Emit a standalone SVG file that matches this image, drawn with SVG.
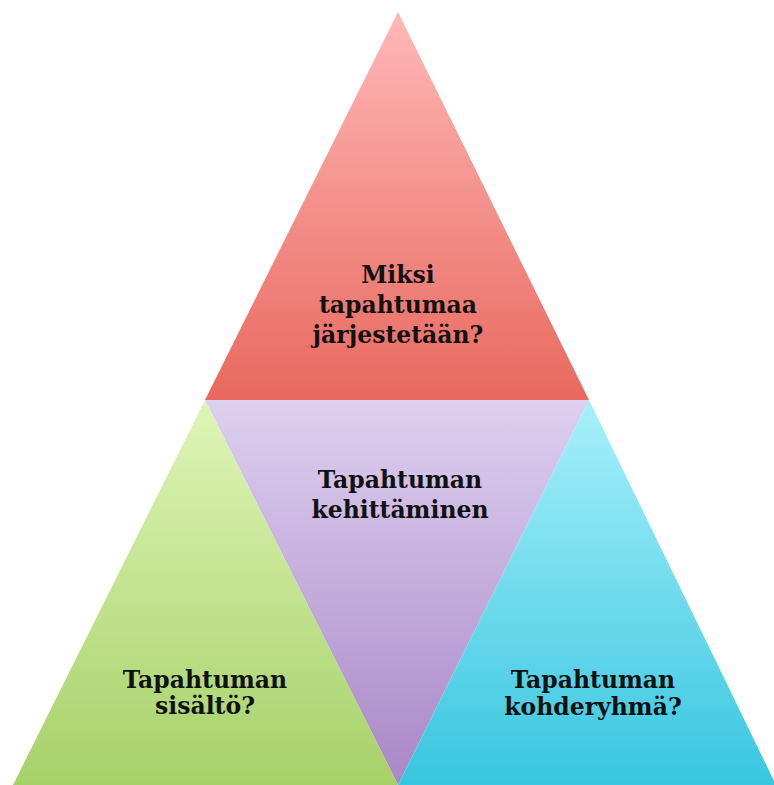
<svg xmlns="http://www.w3.org/2000/svg" width="774" height="785" viewBox="0 0 774 785">
<defs>
<linearGradient id="gRed" x1="0" y1="12" x2="0" y2="400" gradientUnits="userSpaceOnUse"><stop offset="0" stop-color="#FFB8B8"/><stop offset="1" stop-color="#E8695E"/></linearGradient>
<linearGradient id="gPurple" x1="0" y1="400" x2="0" y2="785" gradientUnits="userSpaceOnUse"><stop offset="0" stop-color="#DED0F0"/><stop offset="1" stop-color="#A887C6"/></linearGradient>
<linearGradient id="gGreen" x1="0" y1="400" x2="0" y2="785" gradientUnits="userSpaceOnUse"><stop offset="0" stop-color="#DFF5B8"/><stop offset="1" stop-color="#A6D168"/></linearGradient>
<linearGradient id="gCyan" x1="0" y1="400" x2="0" y2="785" gradientUnits="userSpaceOnUse"><stop offset="0" stop-color="#A8F0FA"/><stop offset="1" stop-color="#38C6E0"/></linearGradient>
</defs>
<style>
text{font-family:"DejaVu Serif","Liberation Serif",serif;font-weight:bold;font-size:23.5px;fill:#111;text-anchor:middle}
</style>
<rect width="774" height="785" fill="#FFFFFF"/>
<g id="top">
<polygon points="398,12 205,400 589,400" fill="url(#gRed)"/>
<text x="398" y="283">Miksi</text>
<text x="398" y="313">tapahtumaa</text>
<text x="398" y="343">järjestetään?</text>
</g>
<g id="middle">
<polygon points="205,400 589,400 398,785" fill="url(#gPurple)"/>
<text x="400" y="488">Tapahtuman</text>
<text x="400" y="518">kehittäminen</text>
</g>
<g id="left">
<polygon points="205,400 13,785 398,785" fill="url(#gGreen)"/>
<text x="205" y="688">Tapahtuman</text>
<text x="205" y="714">sisältö?</text>
</g>
<g id="right">
<polygon points="589,400 398,785 776,785" fill="url(#gCyan)"/>
<text x="593" y="688">Tapahtuman</text>
<text x="593" y="715">kohderyhmä?</text>
</g>
<g id="connectors"></g>
</svg>
